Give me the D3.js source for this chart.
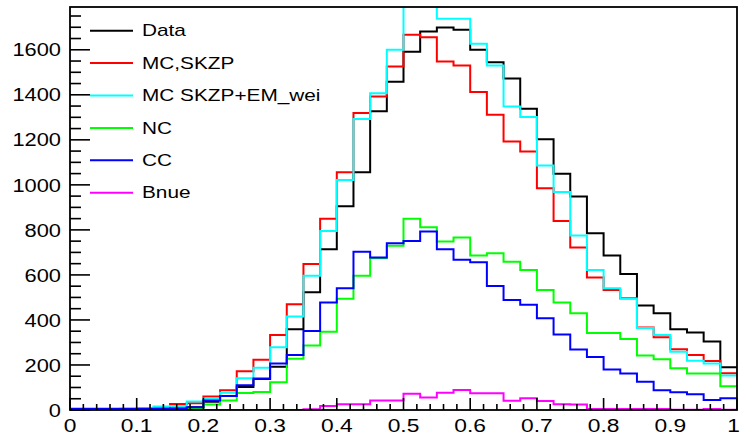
<!DOCTYPE html>
<html>
<head>
<meta charset="utf-8">
<script src="https://cdn.jsdelivr.net/npm/d3@7"></script>
<style>
  html, body { margin: 0; padding: 0; background: #fff; }
  svg { display: block; }
  text { font-family: "Liberation Sans", Arial, Helvetica, sans-serif; fill: #000; }
</style>
</head>
<body>
<svg id="chart" width="741" height="435"></svg>
<script>
// Histogram range and binning (40 bins of 0.025 from 0 to 1)
const xRange = [0, 1];
const nBins = 40;
const yMax = 1790;

// Bin contents per sample
const dataCounts = [0, 0, 0, 0, 0, 2, 4, 12, 37, 62, 102, 138, 192, 359, 523, 714, 905, 1056, 1327, 1458,
  1591, 1681, 1699, 1689, 1600, 1545, 1472, 1338, 1203, 1049, 948, 785, 686, 604, 464, 430, 359, 344, 304, 190];
const mcSkzp = [3, 3, 3, 3, 5, 8, 27, 30, 60, 88, 172, 223, 333, 470, 649, 849, 1056, 1319, 1393, 1526,
  1667, 1656, 1548, 1530, 1412, 1311, 1193, 1148, 985, 840, 722, 588, 533, 496, 366, 323, 270, 244, 218, 163];
const mcSkzpEm = [3, 3, 3, 5, 8, 15, 18, 38, 50, 77, 141, 188, 279, 415, 596, 795, 1022, 1293, 1407, 1600,
  1830, 1850, 1738, 1738, 1627, 1530, 1348, 1301, 1086, 968, 775, 622, 541, 494, 364, 333, 259, 219, 207, 153];
const ncCounts = [0, 0, 0, 0, 0, 1, 2, 5, 24, 42, 76, 80, 123, 228, 287, 348, 494, 596, 674, 730,
  849, 812, 748, 766, 686, 696, 659, 622, 533, 478, 430, 342, 342, 315, 242, 225, 185, 162, 162, 105];
const ccCounts = [5, 5, 5, 5, 5, 6, 8, 12, 42, 62, 110, 140, 207, 244, 351, 477, 541, 703, 677, 741,
  751, 793, 714, 667, 656, 551, 489, 467, 407, 335, 269, 235, 180, 162, 125, 88, 79, 70, 44, 52];
const bnueCounts = [0, 0, 0, 0, 0, 0, 0, 0, 0, 0, 0, 0, 0, 0, 3, 18, 25, 25, 42, 42,
  72, 55, 77, 89, 74, 74, 41, 52, 40, 25, 24, 4, 4, 4, 4, 4, 1, 1, 4, 1];

const seriesNames = ["Data", "MC,SKZP", "MC SKZP+EM_wei", "NC", "CC", "Bnue"];
const seriesColors = ["#000000", "#ff0000", "#00ffff", "#00ff00", "#0000ff", "#ff00ff"];
const seriesValues = [dataCounts, mcSkzp, mcSkzpEm, ncCounts, ccCounts, bnueCounts];

const xTickValues = [0, 0.1, 0.2, 0.3, 0.4, 0.5, 0.6, 0.7, 0.8, 0.9, 1];
const xTickLabels = ["0", "0.1", "0.2", "0.3", "0.4", "0.5", "0.6", "0.7", "0.8", "0.9", "1"];
const yTickValues = [0, 200, 400, 600, 800, 1000, 1200, 1400, 1600];

// Frame geometry
const frame = { left: 70, right: 737, top: 7, bottom: 410 };
const canvasWidth = 741;

const svg = d3.select("#chart");
const x = d3.scaleLinear().domain(xRange).range([frame.left, frame.right]);
const y = d3.scaleLinear().domain([0, yMax]).range([frame.bottom, frame.top]);
const binWidth = (xRange[1] - xRange[0]) / nBins;

svg.append("defs").append("clipPath").attr("id", "frameClip")
  .append("rect")
  .attr("x", frame.left).attr("y", frame.top)
  .attr("width", frame.right - frame.left).attr("height", frame.bottom - frame.top);

// Step outline for each histogram
const stepLine = d3.line()
  .x(d => x(d[0]))
  .y(d => y(d[1]))
  .curve(d3.curveStepAfter);

const histG = svg.append("g").attr("clip-path", "url(#frameClip)");
seriesValues.forEach((vals, k) => {
  const pts = vals.map((v, i) => [xRange[0] + i * binWidth, v]);
  pts.push([xRange[1], vals[vals.length - 1]]);
  histG.append("path")
    .attr("d", stepLine(pts))
    .attr("fill", "none")
    .attr("stroke", seriesColors[k])
    .attr("stroke-width", 2);
});

// Ticks: y major every 200, minor every 50; x major every 0.1, minor every 0.02
const axisG = svg.append("g").attr("stroke", "#000");
d3.range(0, yMax + 1, 50).forEach(v => {
  const major = v % 200 === 0;
  axisG.append("line")
    .attr("x1", frame.left).attr("x2", frame.left + (major ? 20 : 11))
    .attr("y1", y(v)).attr("y2", y(v))
    .attr("stroke-width", 1.6);
});
d3.range(0, 51).forEach(j => {
  const v = j * 0.02;
  const major = j % 5 === 0;
  axisG.append("line")
    .attr("x1", x(v)).attr("x2", x(v))
    .attr("y1", frame.bottom).attr("y2", frame.bottom - (major ? 12 : 6))
    .attr("stroke-width", 1.6);
});

// Frame
svg.append("rect")
  .attr("x", frame.left).attr("y", frame.top)
  .attr("width", frame.right - frame.left).attr("height", frame.bottom - frame.top)
  .attr("fill", "none").attr("stroke", "#000").attr("stroke-width", 1.8);

// Tick labels
const labelG = svg.append("g").style("font-size", "19px");
yTickValues.forEach(v => {
  labelG.append("g")
    .attr("transform", `translate(${frame.left - 9},${y(v)}) scale(1.15,1)`)
    .append("text")
    .attr("text-anchor", "end")
    .attr("dy", "0.35em")
    .text(v);
});
xTickValues.forEach((v, i) => {
  const g = labelG.append("g")
    .attr("transform", `translate(${x(v)},${frame.bottom + 22}) scale(1.2,1)`);
  const t = g.append("text")
    .attr("text-anchor", "middle")
    .text(xTickLabels[i]);
  // keep the last label inside the canvas
  const half = t.node().getComputedTextLength() * 1.2 / 2;
  const cx = Math.min(x(v), canvasWidth - 1 - half);
  g.attr("transform", `translate(${cx},${frame.bottom + 22}) scale(1.2,1)`);
});

// Legend
const legendG = svg.append("g").style("font-size", "16px");
seriesNames.forEach((name, k) => {
  const cy = 30.7 + k * 32.4;
  legendG.append("line")
    .attr("x1", 90).attr("x2", 133)
    .attr("y1", cy).attr("y2", cy)
    .attr("stroke", seriesColors[k]).attr("stroke-width", 2);
  legendG.append("g")
    .attr("transform", `translate(142,${cy}) scale(1.3,1)`)
    .append("text")
    .attr("dy", "0.36em")
    .text(name);
});
</script>
</body>
</html>
